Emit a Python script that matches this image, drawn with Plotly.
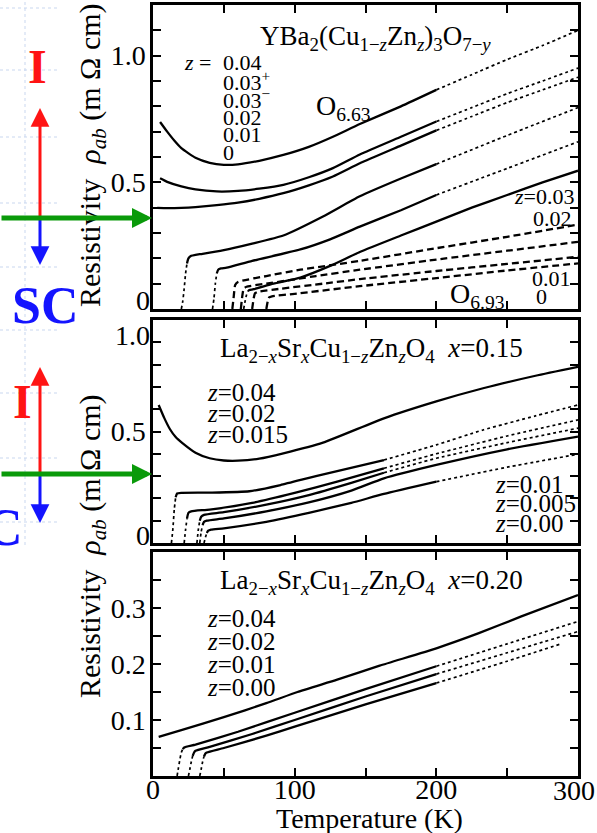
import numpy as np
import plotly.graph_objects as go

W, H = 597, 833
FONT = "Liberation Serif"

# ---------------- DATA ----------------
# Top panel: YBa2(Cu1-zZnz)3O7-y, O6.63 (solid)
T_a04 = [5, 10, 15, 20, 30, 40, 50, 60, 75, 92, 110, 127, 146, 175, 200, 225, 250, 275, 300]
R_a04 = [0.738, 0.70, 0.665, 0.635, 0.597, 0.577, 0.569, 0.571, 0.585, 0.608, 0.64, 0.68, 0.73, 0.80, 0.865, 0.925, 0.985, 1.04, 1.10]
T_a03p = [5, 10, 20, 30, 45, 60, 75, 92, 110, 127, 146, 175, 200, 225, 250, 275, 300]
R_a03p = [0.516, 0.502, 0.484, 0.472, 0.464, 0.466, 0.475, 0.49, 0.52, 0.556, 0.61, 0.68, 0.74, 0.795, 0.85, 0.90, 0.951]
T_a03m = [3, 10, 20, 30, 45, 60, 75, 92, 110, 127, 146, 175, 200, 225, 250, 275, 300]
R_a03m = [0.399, 0.398, 0.399, 0.402, 0.41, 0.42, 0.435, 0.457, 0.488, 0.523, 0.575, 0.645, 0.705, 0.76, 0.815, 0.865, 0.915]
T_a02 = [20, 21, 22, 23, 24, 25, 27, 30, 35, 50, 70, 92, 120, 146, 175, 200, 250, 300]
R_a02 = [0.0, 0.03, 0.08, 0.14, 0.18, 0.2, 0.21, 0.214, 0.218, 0.232, 0.258, 0.29, 0.365, 0.445, 0.515, 0.572, 0.685, 0.795]
T_a01 = [42, 43, 44, 45, 46, 48, 52, 70, 104, 125, 146, 175, 200, 250, 300]
R_a01 = [0.0, 0.04, 0.1, 0.14, 0.155, 0.16, 0.163, 0.19, 0.235, 0.275, 0.325, 0.39, 0.45, 0.555, 0.66]
T_a00 = [64, 65, 66, 67, 68, 71, 85, 104, 125, 146, 175, 200, 225, 250, 275, 300]
R_a00 = [0.0, 0.03, 0.055, 0.07, 0.075, 0.078, 0.1, 0.124, 0.17, 0.225, 0.29, 0.345, 0.40, 0.45, 0.50, 0.546]
# Top panel: O6.93 (dashed)
T_b03 = [56, 57, 58, 60, 80, 104, 146, 200, 250, 300]
R_b03 = [0.0, 0.05, 0.095, 0.107, 0.13, 0.155, 0.19, 0.24, 0.285, 0.333]
T_b02 = [62, 63, 64, 66, 80, 115, 146, 200, 250, 300]
R_b02 = [0.0, 0.05, 0.08, 0.088, 0.1, 0.13, 0.155, 0.195, 0.23, 0.265]
T_b01 = [70, 71, 72, 74, 90, 120, 146, 200, 250, 300]
R_b01 = [0.0, 0.04, 0.062, 0.068, 0.08, 0.1, 0.118, 0.15, 0.178, 0.206]
T_b00 = [80, 81, 82, 84, 100, 146, 200, 250, 300]
R_b00 = [0.0, 0.03, 0.046, 0.05, 0.06, 0.09, 0.122, 0.152, 0.18]

# Middle panel: La2-xSrxCu1-zZnzO4 x=0.15
T_m04 = [4, 8, 12, 16, 21, 30, 40, 50, 60, 75, 92, 120, 163, 200, 233, 270, 300]
R_m04 = [0.619, 0.56, 0.51, 0.475, 0.447, 0.405, 0.38, 0.37, 0.369, 0.378, 0.402, 0.45, 0.559, 0.635, 0.694, 0.75, 0.79]
T_m02 = [13, 14, 15, 16, 17, 20, 40, 68, 90, 115, 163, 200, 233, 270, 300]
R_m02 = [0.0, 0.06, 0.15, 0.205, 0.222, 0.225, 0.226, 0.232, 0.26, 0.3, 0.372, 0.44, 0.507, 0.57, 0.619]
T_m015 = [22, 23, 24, 25, 27, 40, 70, 100, 130, 163, 200, 250, 300]
R_m015 = [0.0, 0.06, 0.11, 0.135, 0.142, 0.15, 0.18, 0.225, 0.275, 0.335, 0.40, 0.48, 0.552]
T_m01 = [31, 32, 33, 34, 36, 50, 80, 110, 140, 163, 200, 250, 300]
R_m01 = [0.0, 0.06, 0.1, 0.118, 0.126, 0.138, 0.172, 0.215, 0.27, 0.315, 0.38, 0.45, 0.515]
T_m005 = [33, 34, 35, 36, 38, 50, 80, 110, 140, 163, 200, 250, 300]
R_m005 = [0.0, 0.05, 0.08, 0.095, 0.1, 0.11, 0.142, 0.182, 0.235, 0.29, 0.35, 0.42, 0.477]
T_m00 = [36, 37, 38, 39, 41, 50, 80, 110, 140, 163, 200, 250, 300]
R_m00 = [0.0, 0.025, 0.045, 0.055, 0.06, 0.066, 0.095, 0.135, 0.18, 0.22, 0.275, 0.34, 0.398]

# Bottom panel: La2-xSrxCu1-zZnzO4 x=0.20
T_l04 = [4, 20, 50, 80, 102, 130, 160, 200, 230, 260, 300]
R_l04 = [0.07, 0.082, 0.105, 0.13, 0.15, 0.172, 0.197, 0.228, 0.255, 0.285, 0.323]
T_l02 = [17, 18, 19, 20, 21, 22, 30, 60, 100, 150, 200, 250, 300]
R_l02 = [0.0, 0.015, 0.03, 0.042, 0.048, 0.051, 0.056, 0.079, 0.113, 0.155, 0.196, 0.236, 0.276]
T_l01 = [25, 26, 27, 28, 29, 30, 40, 70, 100, 150, 200, 250, 300]
R_l01 = [0.0, 0.012, 0.025, 0.036, 0.042, 0.045, 0.052, 0.075, 0.1, 0.142, 0.182, 0.22, 0.258]
T_l00 = [33, 34, 35, 36, 37, 38, 50, 80, 100, 150, 200, 250, 288]
R_l00 = [0.0, 0.012, 0.025, 0.035, 0.04, 0.042, 0.05, 0.072, 0.088, 0.128, 0.166, 0.205, 0.236]

X_TICKS = [0, 50, 100, 150, 200, 250, 300]
X_LABELS = ["0", "", "100", "", "200", "", ""]   # "300" drawn separately so it stays inside the page

# ---------------- FIGURE ----------------
fig = go.Figure()


def add_curve(T, R, ax, lo=None, hi=None, dash="solid"):
    T = np.asarray(T, float)
    R = np.asarray(R, float)
    xa, ya = ("x", "y") if ax == 1 else (f"x{ax}", f"y{ax}")
    if lo is None:
        lo = T[0]
    if hi is None:
        hi = T[-1]
    i_lo = int(np.argmax(T >= lo))
    i_hi = int(np.where(T <= hi)[0][-1])
    segs = []
    if i_lo > 0:
        segs.append((slice(0, i_lo + 1), "dot", 1.7))
    segs.append((slice(i_lo, i_hi + 1), dash, 2.3))
    if i_hi < len(T) - 1:
        segs.append((slice(i_hi, len(T)), "dot", 1.7))
    for sl, d, w in segs:
        fig.add_trace(go.Scatter(x=T[sl], y=R[sl], mode="lines", xaxis=xa, yaxis=ya,
                                 line=dict(color="black", width=w, dash=d, shape="spline", smoothing=0.5),
                                 showlegend=False, hoverinfo="skip"))


# top panel
add_curve(T_a04, R_a04, 1, hi=200)
add_curve(T_a03p, R_a03p, 1, hi=200)
add_curve(T_a03m, R_a03m, 1, hi=200)
add_curve(T_a02, R_a02, 1, lo=24, hi=205)
add_curve(T_a01, R_a01, 1, lo=45, hi=205)
add_curve(T_a00, R_a00, 1, lo=67)
for T, R in [(T_b03, R_b03), (T_b02, R_b02), (T_b01, R_b01), (T_b00, R_b00)]:
    add_curve(T, R, 1, dash="7px,4px")
# middle panel
add_curve(T_m04, R_m04, 2)
add_curve(T_m02, R_m02, 2, lo=16, hi=163)
add_curve(T_m015, R_m015, 2, lo=24, hi=170)
add_curve(T_m01, R_m01, 2, lo=33, hi=170)
add_curve(T_m005, R_m005, 2, lo=35)
add_curve(T_m00, R_m00, 2, lo=38, hi=200)
# bottom panel
add_curve(T_l04, R_l04, 3)
add_curve(T_l02, R_l02, 3, lo=21, hi=200)
add_curve(T_l01, R_l01, 3, lo=28, hi=200)
add_curve(T_l00, R_l00, 3, lo=36, hi=200)

X0, X1 = 153 / W, 578 / W


def ydom(top, bot):
    return [1 - bot / H, 1 - top / H]


tickfont = dict(family=FONT, size=28, color="black")
common_x = dict(range=[0, 300], tickmode="array", tickvals=X_TICKS, ticks="inside", ticklen=8,
                tickwidth=1.5, tickcolor="black", showline=True, linecolor="black", linewidth=2.5,
                mirror="ticks", showgrid=False, zeroline=False, domain=[X0, X1], tickfont=tickfont,
                ticklabeloverflow="allow")
common_y = dict(ticks="inside", ticklen=8, tickwidth=1.5, tickcolor="black", showline=True,
                linecolor="black", linewidth=2.5, mirror="ticks", showgrid=False, zeroline=False,
                tickfont=tickfont, tickmode="array", ticklabelstandoff=-1, ticklabeloverflow="allow")

yt1 = [round(0.1 * i, 2) for i in range(13)]
yt2 = [round(0.1 * i, 2) for i in range(11)]
yt3 = [round(0.05 * i, 3) for i in range(9)]

fig.update_layout(
    width=W, height=H, margin=dict(l=0, r=0, t=0, b=0, autoexpand=False),
    paper_bgcolor="white", plot_bgcolor="white",
    xaxis=dict(common_x, anchor="y", ticktext=[""] * 7),
    yaxis=dict(common_y, anchor="x", domain=ydom(5, 309), range=[0, 1.2], tickvals=yt1,
               ticktext=["0.5" if v == 0.5 else ("1.0" if v == 1.0 else "") for v in yt1]),
    xaxis2=dict(common_x, anchor="y2", ticktext=[""] * 7),
    yaxis2=dict(common_y, anchor="x2", domain=ydom(320, 543), range=[0, 1.0], tickvals=yt2,
                ticktext=["0.5" if v == 0.5 else "" for v in yt2]),
    xaxis3=dict(common_x, anchor="y3", ticktext=X_LABELS, ticklabelstandoff=-13),
    yaxis3=dict(common_y, anchor="x3", domain=ydom(552, 776), range=[0, 0.4], tickvals=yt3,
                ticktext=[("%.1f" % v) if v in (0.1, 0.2, 0.3) else "" for v in yt3]),
)


def P(x, y):
    return x / W, 1 - y / H


def txt(x, y, s, size=23, xanchor="left", color="black", angle=0, yanchor="middle"):
    px, py = P(x, y)
    fig.add_annotation(x=px, y=py, xref="paper", yref="paper", text=s, showarrow=False,
                       xanchor=xanchor, yanchor=yanchor, textangle=angle,
                       font=dict(family=FONT, size=size, color=color))


# offset tick labels
txt(152, 300, "0", size=28, xanchor="right")
txt(152, 335, "1.0", size=28, xanchor="right")
txt(152, 535, "0", size=28, xanchor="right")
txt(597, 790, "300", size=28, xanchor="right")

# axis titles
ytitle = "Resistivity  <i>ρ</i><sub><i>ab</i></sub> (m Ω cm)"
txt(92, 155, ytitle, size=30, xanchor="center", angle=-90)
txt(92, 546, ytitle, size=30, xanchor="center", angle=-90)
txt(370, 818, "Temperature (K)", size=28, xanchor="center")

# panel titles
txt(375, 38, "YBa<sub>2</sub>(Cu<sub>1−<i>z</i></sub>Zn<sub><i>z</i></sub>)<sub>3</sub>O<sub>7−<i>y</i></sub>",
    size=27, xanchor="center")
txt(371, 350, "La<sub>2−<i>x</i></sub>Sr<sub><i>x</i></sub>Cu<sub>1−<i>z</i></sub>Zn<sub><i>z</i></sub>O<sub>4</sub>  <i>x</i>=0.15",
    size=27, xanchor="center")
txt(371, 582, "La<sub>2−<i>x</i></sub>Sr<sub><i>x</i></sub>Cu<sub>1−<i>z</i></sub>Zn<sub><i>z</i></sub>O<sub>4</sub>  <i>x</i>=0.20",
    size=27, xanchor="center")

# top panel labels
txt(221, 63, "0.04", size=22)
txt(219, 63, "<i>z</i> = ", size=22, xanchor="right")
txt(221, 81, "0.03<sup>+</sup>", size=22)
txt(221, 99, "0.03<sup>−</sup>", size=22)
txt(221, 117, "0.02", size=22)
txt(221, 135, "0.01", size=22)
txt(221, 153, "0", size=22)
txt(343, 107, "O<sub>6.63</sub>", size=28, xanchor="center")
txt(576, 197, "<i>z</i>=0.03", size=22, xanchor="right")
txt(574, 218, "0.02", size=22, xanchor="right")
txt(573, 278, "0.01", size=22, xanchor="right")
txt(534, 297, "0", size=22)
txt(478, 295, "O<sub>6.93</sub>", size=28, xanchor="center")

# middle panel labels
for y, s in [(392, "0.04"), (413, "0.02"), (435, "0.015")]:
    txt(205, y, "<i>z</i>=" + s, size=25)
for y, s in [(484, "0.01"), (503, "0.005"), (523, "0.00")]:
    txt(493, y, "<i>z</i>=" + s, size=25)
# bottom panel labels
for y, s in [(618, "0.04"), (641, "0.02"), (664, "0.01"), (687, "0.00")]:
    txt(205, y, "<i>z</i>=" + s, size=25)

# background grid on left
GRID = "#c9d7ef"
for y in [8, 70, 137, 203, 267, 330, 393, 458, 522]:
    fig.add_shape(type="line", xref="paper", yref="paper", x0=0, x1=60 / W, y0=1 - y / H, y1=1 - y / H,
                  line=dict(color=GRID, width=1, dash="dot"), layer="below")
fig.add_shape(type="line", xref="paper", yref="paper", x0=25 / W, x1=25 / W, y0=1 - 545 / H, y1=1,
              line=dict(color=GRID, width=1, dash="dot"), layer="below")

RED, BLUE, GREEN = "#ff1414", "#1414ff", "#0a9a0a"


def arrow(tip, tail, color, width, size):
    px, py = P(*tip)
    fig.add_annotation(x=px, y=py, xref="paper", yref="paper", text="", showarrow=True,
                       ax=tail[0] - tip[0], ay=tail[1] - tip[1], axref="pixel", ayref="pixel",
                       arrowhead=2, arrowsize=size, arrowwidth=width, arrowcolor=color)


for yc, ytip_up, ytip_dn in [(218, 108, 265), (474, 367, 523)]:
    arrow((40, ytip_up), (40, yc), RED, 3, 1.25)
    arrow((40, ytip_dn), (40, yc), BLUE, 3, 1.25)
    arrow((152, yc), (0, yc), GREEN, 5, 0.8)

bold = lambda s: "<b>" + s + "</b>"
txt(37, 66, bold("I"), size=48, xanchor="center", color=RED)
txt(45, 306, bold("SC"), size=52, xanchor="center", color=BLUE)
txt(22, 401, bold("I"), size=48, xanchor="center", color=RED)
txt(24, 527, bold("SC"), size=52, xanchor="right", color=BLUE)

fig.write_html("out.html")
